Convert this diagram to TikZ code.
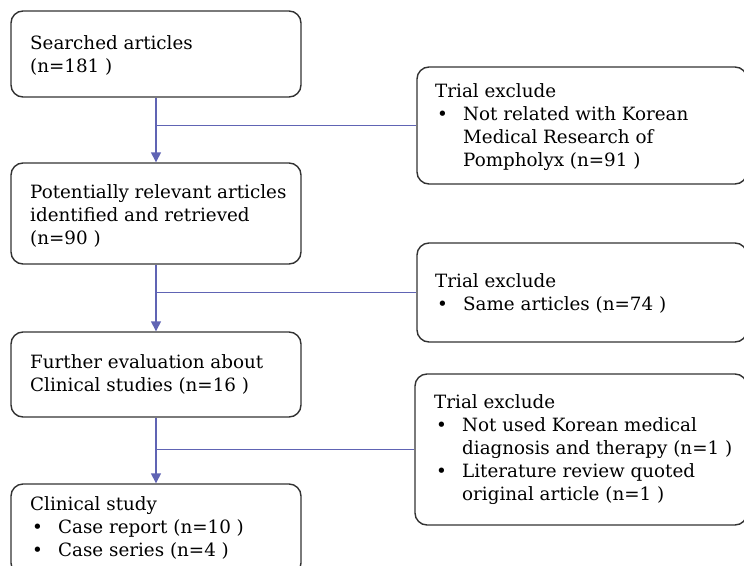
\documentclass[tikz,border=0pt]{standalone}
\usepackage{fontspec}
\setmainfont{DejaVu Serif}
\usetikzlibrary{arrows.meta}
\definecolor{flowline}{RGB}{96,100,180}
\definecolor{boxline}{RGB}{50,50,50}
\tikzset{
  x=1pt, y=-1pt,
  boxshape/.style={draw=boxline, line width=1.4pt, rounded corners=12pt, rectangle, inner sep=0pt},
  txt/.style={anchor=base west, align=left, inner sep=0pt, font=\fontsize{18.3}{23}\selectfont},
  flow/.style={draw=flowline, line width=1.4pt},
  flowarrow/.style={flow, -{Triangle[width=10pt,length=10pt]}}
}
\newcommand{\bul}{\makebox[28pt][l]{\hspace*{2pt}\textbullet}}
\newcommand{\ind}{\hspace*{28pt}}
\begin{document}
\begin{tikzpicture}
\useasboundingbox (0,0) rectangle (744,565);
% left boxes
\node[boxshape, minimum width=290pt, minimum height=86pt] (b1) at (156,54) {};
\node[boxshape, minimum width=290pt, minimum height=101pt] (b2) at (156,213.5) {};
\node[boxshape, minimum width=290pt, minimum height=85pt] (b3) at (156,374.5) {};
\node[boxshape, minimum width=290pt, minimum height=91pt] (b4) at (156,529.5) {};
% right boxes
\node[boxshape, minimum width=330pt, minimum height=117pt] (r1) at (582,125.5) {};
\node[boxshape, minimum width=330pt, minimum height=99pt] (r2) at (582,292.5) {};
\node[boxshape, minimum width=332pt, minimum height=151pt] (r3) at (581,449.5) {};
% texts (base anchor = last line's baseline)
\node[txt] (t1) at (30,72) {Searched articles\\(n=181 )};
\node[txt] (t2) at (30,244) {Potentially relevant articles\\identified and retrieved\\(n=90 )};
\node[txt] (t3) at (30,391) {Further evaluation about\\Clinical studies (n=16 )};
\node[txt] (t4) at (30,556) {Clinical study\\\bul Case report (n=10 )\\\bul Case series (n=4 )};
\node[txt] (tr1) at (435,166) {Trial exclude\\\bul Not related with Korean\\\ind Medical Research of\\\ind Pompholyx (n=91 )};
\node[txt] (tr2) at (435,310) {Trial exclude\\\bul Same articles (n=74 )};
\node[txt] (tr3) at (434,500) {Trial exclude\\\bul Not used Korean medical\\\ind diagnosis and therapy (n=1 )\\\bul Literature review quoted\\\ind original article (n=1 )};
% connectors
\draw[flowarrow] (b1.south) -- (b2.north);
\draw[flowarrow] (b2.south) -- (b3.north);
\draw[flowarrow] (b3.south) -- (b4.north);
\draw[flow] (b1.south |- r1.west) -- (r1.west);
\draw[flow] (b2.south |- r2.west) -- (r2.west);
\draw[flow] (b3.south |- r3.west) -- (r3.west);
\end{tikzpicture}
\end{document}
